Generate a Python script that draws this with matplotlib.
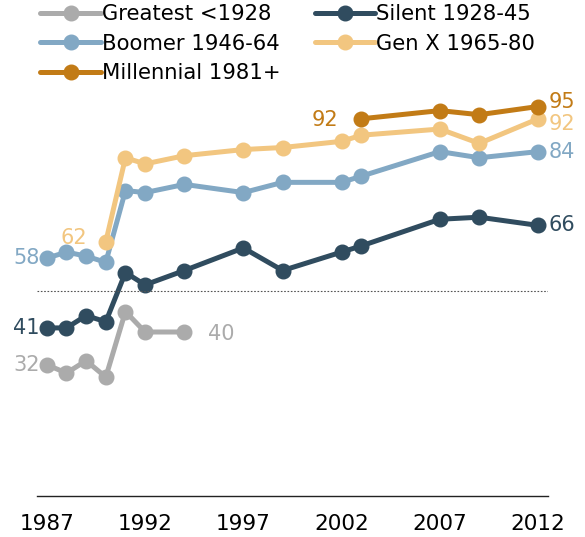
import matplotlib
matplotlib.use("Agg")
import matplotlib.pyplot as plt

# survey years per generation
years_greatest = [1987, 1988, 1989, 1990, 1991, 1992, 1994]
years_silent = [1987, 1988, 1989, 1990, 1991, 1992, 1994, 1997, 1999, 2002, 2003, 2007, 2009, 2012]
years_boomer = years_silent
years_genx = [1990, 1991, 1992, 1994, 1997, 1999, 2002, 2003, 2007, 2009, 2012]
years_mill = [2003, 2007, 2009, 2012]

# percentages
greatest = [32, 30, 33, 29, 45, 40, 40]
silent = [41, 41, 44, 42.5, 54.5, 51.5, 55, 60.5, 55, 59.5, 61, 67.5, 68, 66]
boomer = [58, 59.5, 58.5, 57, 74.5, 74, 76, 74, 76.5, 76.5, 78, 84, 82.5, 84]
genx = [62, 82.5, 81, 83, 84.5, 85, 86.5, 88, 89.5, 86, 92]
mill = [92, 94, 93, 95]

names = ["Greatest <1928", "Silent 1928-45", "Boomer 1946-64", "Gen X 1965-80", "Millennial 1981+"]
colors = ["#ABABAB", "#304C5F", "#82A8C4", "#F2C680", "#C27B16"]
xticks = [1987, 1992, 1997, 2002, 2007, 2012]

series = [(years_greatest, greatest), (years_silent, silent), (years_boomer, boomer),
          (years_genx, genx), (years_mill, mill)]

fig = plt.figure(figsize=(5.85, 5.37), dpi=100)
ax = fig.add_axes([37/585, 41/537, 511/585, 410/537])

handles = []
for (xs, ys), name, col in zip(series, names, colors):
    h, = ax.plot(xs, ys, color=col, lw=3.6, marker="o", markersize=10.5,
                 solid_capstyle="round", label=name)
    handles.append(h)

ax.axhline(50, color="#555555", lw=0.8, ls=(0, (1.5, 1.5)))

ax.set_xlim(1986.5, 2012.5)
ax.set_ylim(0, 100)
ax.set_xticks(xticks)
ax.set_xticklabels([str(t) for t in xticks], fontsize=15.5)
ax.tick_params(axis="x", length=0, pad=13)
ax.set_yticks([])
for s in ["top", "right", "left"]:
    ax.spines[s].set_visible(False)
ax.spines["bottom"].set_color("#222222")
ax.spines["bottom"].set_linewidth(1.0)

# value labels
def lab(x, y, txt, col, dx, dy, ha):
    ax.annotate(txt, (x, y), xytext=(dx, dy), textcoords="offset pixels",
                ha=ha, va="center", color=col, fontsize=15)

lab(years_boomer[0], boomer[0], "58", colors[2], -7, 0, "right")
lab(years_silent[0], silent[0], "41", colors[1], -7, 0, "right")
lab(years_greatest[0], greatest[0], "32", colors[0], -7, 0, "right")
lab(years_genx[0], genx[0], "62", colors[3], -19, 4, "right")
lab(years_greatest[-1], greatest[-1], "40", colors[0], 24, -2, "left")
lab(years_mill[0], mill[0], "92", colors[4], -23, -1, "right")
lab(years_mill[-1], mill[-1], "95", colors[4], 10, 5, "left")
lab(years_genx[-1], genx[-1], "92", colors[3], 10, -5, "left")
lab(years_boomer[-1], boomer[-1], "84", colors[2], 10, 0, "left")
lab(years_silent[-1], silent[-1], "66", colors[1], 10, 0, "left")

order = [0, 2, 4, 1, 3]
fig.legend([handles[i] for i in order], [names[i] for i in order],
           ncol=2, loc="upper left", bbox_to_anchor=(32/585, 1.008),
           frameon=False, fontsize=15.2, handlelength=2.85, handletextpad=0.05,
           columnspacing=1.65, labelspacing=0.45, borderaxespad=0.0)

fig.savefig("out.png", dpi=100)
